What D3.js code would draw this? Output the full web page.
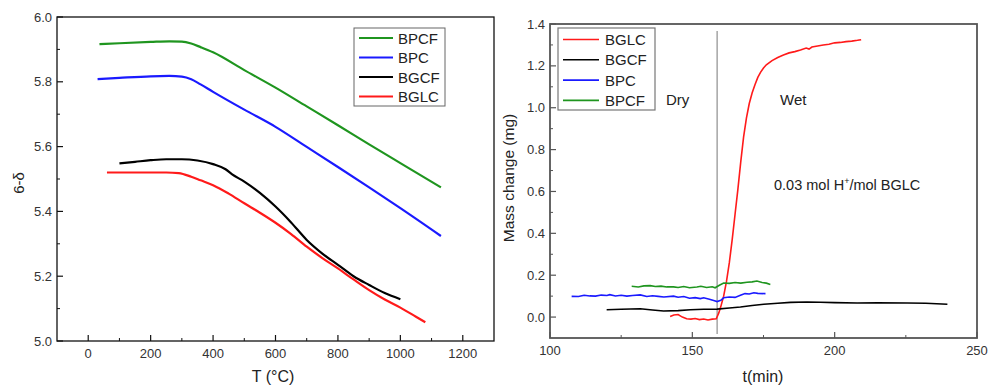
<!DOCTYPE html>
<html><head><meta charset="utf-8">
<script src="https://cdn.jsdelivr.net/npm/d3@7"></script>
<style>body{margin:0;background:#fff}svg{display:block;font-family:Arial,"Liberation Sans",sans-serif}</style>
</head><body><svg id="c" width="990" height="390"></svg>
<script>
// ---------- Left chart data ----------
const leftXTicks = [0,200,400,600,800,1000,1200];
const leftYTicks = [5.0,5.2,5.4,5.6,5.8,6.0];
const bpcfT = [36,100,200,260,300,330,360,400,500,600,700,800,900,1000,1130];
const bpcfV = [5.916,5.919,5.923,5.925,5.924,5.918,5.907,5.891,5.836,5.782,5.724,5.666,5.607,5.549,5.474];
const bpcT  = [30,100,200,260,300,330,360,400,500,600,700,800,900,1000,1130];
const bpcV  = [5.808,5.812,5.817,5.818,5.816,5.808,5.792,5.769,5.714,5.661,5.599,5.537,5.474,5.410,5.324];
const bgcfT = [100,150,200,250,300,350,400,440,460,500,550,600,650,700,750,800,850,900,950,1000];
const bgcfV = [5.548,5.553,5.558,5.561,5.561,5.557,5.546,5.530,5.515,5.492,5.457,5.415,5.366,5.312,5.270,5.235,5.200,5.173,5.148,5.129];
const bglcT = [60,150,250,290,330,360,400,450,500,550,600,650,700,750,800,850,900,950,1000,1050,1080];
const bglcV = [5.520,5.520,5.520,5.518,5.507,5.496,5.481,5.455,5.425,5.396,5.365,5.330,5.291,5.256,5.224,5.190,5.157,5.128,5.103,5.075,5.058];
const leftSeries = [
  {name:"BPCF", color:"#1f951f", t:bpcfT, v:bpcfV},
  {name:"BPC",  color:"#1a1aff", t:bpcT,  v:bpcV},
  {name:"BGCF", color:"#000000", t:bgcfT, v:bgcfV},
  {name:"BGLC", color:"#ff1a1a", t:bglcT, v:bglcV}
];

// ---------- Right chart data ----------
const rightXTicks = [100,150,200,250];
const rightYTicks = [0.0,0.2,0.4,0.6,0.8,1.0,1.2,1.4];
const rBglcT = [142.2,143.5,145,146.5,148,149.5,151,152.5,154,155.5,157,158.4,159.3,160,161,162,163,164,165,166,167,168,169,170,171,172,173,174,175,176,178,180,182,184,186,188,190,191,192,194,196,198,200,202,204,206,208,209.3];
const rBglcV = [0.003,0.010,0.012,0.000,-0.008,-0.010,-0.007,-0.012,-0.009,-0.014,-0.010,-0.008,0.020,0.050,0.100,0.170,0.260,0.370,0.490,0.610,0.740,0.860,0.950,1.020,1.070,1.110,1.145,1.170,1.190,1.205,1.225,1.240,1.252,1.262,1.268,1.276,1.285,1.280,1.290,1.295,1.300,1.303,1.310,1.312,1.316,1.318,1.322,1.325];
const rBgcfT = [119.9,125,131.7,136,139.9,145,149.3,154,158.7,163,166.9,171,175.1,180,184.5,190.3,195,200,207.9,215,225.5,232,239.6];
const rBgcfV = [0.035,0.037,0.040,0.034,0.029,0.031,0.035,0.037,0.038,0.043,0.048,0.055,0.061,0.066,0.070,0.072,0.071,0.069,0.067,0.068,0.067,0.066,0.061];
const rBpcT = [107.6,110,112,114,116,118,120,121,123,125,127,129,131.7,134,136,138,140,143.4,145,147,149,151,152.8,154,156,157.5,158.7,160,161,163,165,166.9,168.5,170,171.6,173,175.7];
const rBpcV = [0.099,0.098,0.104,0.101,0.100,0.105,0.103,0.107,0.101,0.104,0.100,0.103,0.106,0.098,0.102,0.099,0.096,0.100,0.095,0.098,0.090,0.093,0.088,0.092,0.085,0.079,0.074,0.080,0.092,0.096,0.094,0.104,0.112,0.110,0.116,0.113,0.112];
const rBpcfT = [128.7,131,133,135.2,137,139,141,143.4,145,147,149,151.6,153,155,157,158,159.5,161,163,165,167,169.2,171,172.7,174.5,176,177.4];
const rBpcfV = [0.147,0.144,0.149,0.150,0.146,0.148,0.144,0.144,0.141,0.146,0.140,0.144,0.147,0.141,0.145,0.140,0.152,0.163,0.161,0.165,0.162,0.166,0.168,0.172,0.165,0.162,0.156];
const rightSeries = [
  {name:"BGLC", color:"#ff1a1a", t:rBglcT, v:rBglcV},
  {name:"BGCF", color:"#000000", t:rBgcfT, v:rBgcfV},
  {name:"BPC",  color:"#1a1aff", t:rBpcT,  v:rBpcV},
  {name:"BPCF", color:"#1f951f", t:rBpcfT, v:rBpcfV}
];
const switchTime = 158.7;

const svg = d3.select("#c");

function drawFrame(g, x, y, stroke, sw, xTicks, yTicks, xMinor, yMinor, xFmt, yFmt) {
  const [x0,x1] = x.range(), [y0,y1] = y.range();
  g.selectAll(null).data(xMinor).join("line")
    .attr("x1",d=>x(d)).attr("x2",d=>x(d)).attr("y1",y0).attr("y2",y0-3)
    .attr("stroke",stroke).attr("stroke-width",1);
  g.selectAll(null).data(yMinor).join("line")
    .attr("y1",d=>y(d)).attr("y2",d=>y(d)).attr("x1",x0).attr("x2",x0+3)
    .attr("stroke",stroke).attr("stroke-width",1);
  g.selectAll(null).data(xTicks).join("line")
    .attr("x1",d=>x(d)).attr("x2",d=>x(d)).attr("y1",y0).attr("y2",y0-6)
    .attr("stroke",stroke).attr("stroke-width",1.2);
  g.selectAll(null).data(yTicks).join("line")
    .attr("y1",d=>y(d)).attr("y2",d=>y(d)).attr("x1",x0).attr("x2",x0+6)
    .attr("stroke",stroke).attr("stroke-width",1.2);
  g.selectAll(null).data(xTicks).join("text")
    .attr("x",d=>x(d)).attr("y",y0+17).attr("text-anchor","middle")
    .attr("font-size",13).attr("fill","#333").text(xFmt);
  g.selectAll(null).data(yTicks).join("text")
    .attr("x",x0-5).attr("y",d=>y(d)+4.5).attr("text-anchor","end")
    .attr("font-size",13).attr("fill","#333").text(yFmt);
  g.append("rect").attr("x",x0).attr("y",y1).attr("width",x1-x0).attr("height",y0-y1)
    .attr("fill","none").attr("stroke",stroke).attr("stroke-width",sw);
}

// ---------- Left chart ----------
{
  const x = d3.scaleLinear().domain([-100,1300]).range([57,494]);
  const y = d3.scaleLinear().domain([5,6]).range([341,17]);
  const g = svg.append("g");
  const line = d3.line().curve(d3.curveMonotoneX);
  leftSeries.forEach(s=>{
    g.append("path").attr("d", line(s.t.map((t,i)=>[x(t),y(s.v[i])])))
      .attr("fill","none").attr("stroke",s.color).attr("stroke-width",2.2);
  });
  drawFrame(g,x,y,"#111",1.3,leftXTicks,leftYTicks,
    d3.range(-100,1301,200).filter(v=>v>-100&&v<1300), d3.range(5.1,6,0.2),
    d=>d3.format("d")(d), d=>d3.format(".1f")(d));
  g.append("text").attr("x",273).attr("y",382).attr("text-anchor","middle")
    .attr("font-size",16).attr("fill","#222").text("T (°C)");
  g.append("text").attr("transform","translate(24,183) rotate(-90)").attr("text-anchor","middle")
    .attr("font-size",15).attr("fill","#222").text("6-δ");
  const lg = g.append("g");
  lg.append("rect").attr("x",354).attr("y",28).attr("width",91).attr("height",78)
    .attr("fill","#fff").attr("stroke","#666").attr("stroke-width",1);
  leftSeries.forEach((s,i)=>{
    const yy = 38 + i*19.5;
    lg.append("line").attr("x1",359).attr("x2",393).attr("y1",yy).attr("y2",yy)
      .attr("stroke",s.color).attr("stroke-width",2.2);
    lg.append("text").attr("x",398).attr("y",yy+5.5).attr("font-size",15).attr("fill","#222").text(s.name);
  });
}

// ---------- Right chart ----------
{
  const x = d3.scaleLinear().domain([100,250]).range([550,977]);
  const y = d3.scaleLinear().domain([-0.1,1.4]).range([338,24]);
  const g = svg.append("g");
  const line = d3.line();
  g.append("line").attr("x1",x(switchTime)).attr("x2",x(switchTime)).attr("y1",31).attr("y2",334)
    .attr("stroke","#777").attr("stroke-width",1);
  rightSeries.forEach(s=>{
    g.append("path").attr("d", line(s.t.map((t,i)=>[x(t),y(s.v[i])])))
      .attr("fill","none").attr("stroke",s.color).attr("stroke-width",1.6);
  });
  drawFrame(g,x,y,"#555",1.8,rightXTicks,rightYTicks,
    [125,175,225], d3.range(-0.1,1.4,0.2).filter(v=>v>-0.05),
    d=>d3.format("d")(d), d=>d3.format(".1f")(d));
  g.append("text").attr("x",763).attr("y",382).attr("text-anchor","middle")
    .attr("font-size",16).attr("fill","#222").text("t(min)");
  g.append("text").attr("transform","translate(514,178) rotate(-90)").attr("text-anchor","middle")
    .attr("font-size",15.5).attr("fill","#222").text("Mass change (mg)");
  g.append("text").attr("x",666).attr("y",105).attr("font-size",15).attr("fill","#222").text("Dry");
  g.append("text").attr("x",780).attr("y",105).attr("font-size",15).attr("fill","#222").text("Wet");
  const ann = g.append("text").attr("x",774).attr("y",190).attr("font-size",14.5).attr("fill","#222");
  ann.append("tspan").text("0.03 mol H");
  ann.append("tspan").attr("dy",-6).attr("font-size",9).text("+");
  ann.append("tspan").attr("dy",6).text("/mol BGLC");
  const lg = g.append("g");
  lg.append("rect").attr("x",558).attr("y",28).attr("width",97).attr("height",82)
    .attr("fill","#fff").attr("stroke","#777").attr("stroke-width",1.2);
  rightSeries.forEach((s,i)=>{
    const yy = 39.5 + i*20.3;
    lg.append("line").attr("x1",563).attr("x2",599).attr("y1",yy).attr("y2",yy)
      .attr("stroke",s.color).attr("stroke-width",1.6);
    lg.append("text").attr("x",605).attr("y",yy+5.5).attr("font-size",15).attr("fill","#222").text(s.name);
  });
}
</script></body></html>
